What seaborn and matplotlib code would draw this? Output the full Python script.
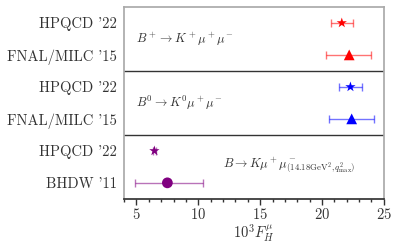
import numpy as np
import pandas as pd
import matplotlib
matplotlib.use("Agg")
import matplotlib.pyplot as plt
import seaborn as sns
from matplotlib.ticker import MultipleLocator

# data
labels = ["HPQCD '22", "FNAL/MILC '15", "HPQCD '22", "FNAL/MILC '15", "HPQCD '22", "BHDW '11"]
values = [21.6, 22.2, 22.3, 22.4, 6.45, 7.5]
err_lo = [0.9, 1.9, 0.9, 1.8, 0.15, 2.6]
err_hi = [0.9, 1.8, 0.9, 1.8, 0.15, 2.9]
groups = ["plus", "plus", "zero", "zero", "bin", "bin"]
kinds = ["HPQCD", "FNAL", "HPQCD", "FNAL", "HPQCD", "BHDW"]
colors = {"plus": "red", "zero": "blue", "bin": "purple"}
markers = {"HPQCD": "*", "FNAL": "^", "BHDW": "o"}
processes = [r"$B^+\to K^+\mu^+\mu^-$", r"$B^0\to K^0\mu^+\mu^-$",
             r"$B\to K\mu^+\mu^-_{(14.18{\rm GeV}^2,q^2_{\rm max})}$"]

df = pd.DataFrame({"label": labels, "val": values, "lo": err_lo, "hi": err_hi,
                   "group": groups, "kind": kinds})
df["pos"] = np.arange(len(df))

sns.set_theme(style="ticks")
plt.rcParams["font.family"] = "serif"
plt.rcParams["font.serif"] = ["cmr10"]
plt.rcParams["mathtext.fontset"] = "cm"
plt.rcParams["axes.formatter.use_mathtext"] = True

fig, ax = plt.subplots(figsize=(3.99, 2.47), dpi=100)
fig.subplots_adjust(left=0.311, right=0.962, top=0.972, bottom=0.195)

for _, r in df.iterrows():
    ax.errorbar(r["val"], r["pos"], xerr=[[r["lo"]], [r["hi"]]], fmt="none",
                ecolor=colors[r["group"]], alpha=0.55, capsize=3, elinewidth=1,
                capthick=1)

sns.scatterplot(data=df, x="val", y="pos", hue="group", style="kind",
                palette=colors, markers=markers, s=60, edgecolor="none",
                legend=False, ax=ax, zorder=3)

for y in [1.5, 3.5]:
    ax.axhline(y, color="#333333", lw=1)

ax.text(5.0, 0.5, processes[0], fontsize=9, va="center", color="#333333")
ax.text(5.0, 2.5, processes[1], fontsize=9, va="center", color="#333333")
ax.text(12.0, 4.45, processes[2], fontsize=9, va="center", color="#333333")

ax.set_xlim(4, 25)
ax.set_ylim(5.5, -0.5)
ax.set_yticks(df["pos"])
ax.set_yticklabels(labels, fontsize=10.5, color="#333333")
ax.tick_params(axis="y", length=0, pad=5)
ax.xaxis.set_major_locator(MultipleLocator(5))
ax.xaxis.set_minor_locator(MultipleLocator(1))
ax.tick_params(axis="x", which="major", length=4, width=1, labelsize=10.5,
               colors="#333333", pad=2)
ax.tick_params(axis="x", which="minor", length=2.5, width=1, colors="#333333")
ax.set_xlabel(r"$10^3F_H^\mu$", fontsize=10.5, color="#333333", labelpad=0)
ax.set_ylabel("")
for s in ["left", "right", "top"]:
    ax.spines[s].set_color("#aaaaaa")
ax.spines["bottom"].set_color("#333333")

fig.savefig("out.png", dpi=100)
